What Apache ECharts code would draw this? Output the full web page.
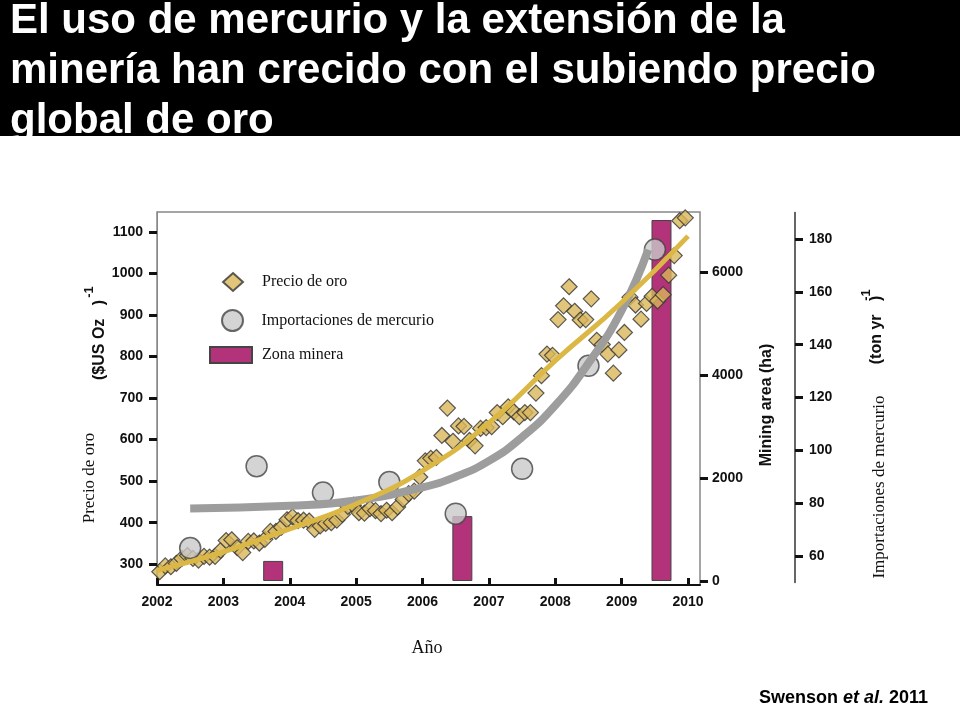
<!DOCTYPE html>
<html><head><meta charset="utf-8">
<script src="https://cdn.jsdelivr.net/npm/echarts@6/dist/echarts.min.js"></script>
<style>html,body{margin:0;background:#fff}#c{width:960px;height:720px}</style>
</head><body><div id="c"></div>
<script>
// monthly gold price, Jan 2002 .. Dec 2009 ($US/oz)
const goldPrice = [
  282,296,294,302,314,321,314,310,319,317,319,333,
  357,359,340,328,355,356,351,360,379,379,389,407,
  414,405,406,404,384,392,398,400,406,420,439,442,
  424,423,434,429,422,430,424,438,456,470,476,510,
  549,555,557,610,676,596,633,632,598,585,627,629,
  631,665,655,679,667,655,665,665,712,754,806,803,
  889,922,968,909,888,889,939,839,829,806,760,816,
  858,943,924,890,928,945,934,949,996,1043,1127,1134
]
const goldFitYears = [2002, 2003, 2004, 2005, 2006, 2007, 2008, 2009, 2010]
const goldFit = [285, 330, 385, 445, 525, 640, 790, 930, 1090]

const mercuryYears = [2002.5, 2003.5, 2004.5, 2005.5, 2006.5, 2007.5, 2008.5, 2009.5]
const mercury = [63, 94, 84, 88, 76, 93, 132, 176]
const mercuryFitYears = [2002.5, 2004, 2005, 2006, 2006.5, 2007, 2007.5, 2008, 2008.5, 2009, 2009.4]
const mercuryFit = [78, 79, 81, 86, 90, 96, 105, 117, 133, 153, 176]

const miningYears = [2003.75, 2006.6, 2009.6]
const miningArea = [390, 1260, 7030]

const goldTicks = [300, 400, 500, 600, 700, 800, 900, 1000, 1100]
const miningTicks = [0, 2000, 4000, 6000]
const mercuryTicks = [60, 80, 100, 120, 140, 160, 180]

const chart = echarts.init(document.getElementById('c'))
const L = 157, R = 260
const serif = 'Liberation Serif'
const bold = {color: '#111', fontFamily: 'Liberation Sans', fontWeight: 'bold', fontSize: 14, formatter: v => String(v)}
const tick = {length: 8, lineStyle: {width: 3, color: '#111'}}
const hiddenX = i => ({gridIndex: i, type: 'value', min: 2002, max: 2010.18, show: false})
const legendText = {fontFamily: serif, fontSize: 16, color: '#111'}

chart.setOption({
  animation: false,
  grid: [
    {left: L, right: R, top: 212, bottom: 135, show: true, borderColor: '#888', borderWidth: 1.5},
    {left: L, right: R, top: 220.5, bottom: 139},
    {left: L, right: R, top: 212.6, bottom: 137.6}
  ],
  xAxis: [
    {gridIndex: 0, type: 'value', min: 2002, max: 2010.18, interval: 1,
     axisLine: {show: true, lineStyle: {color: '#111', width: 2}},
     axisTick: {inside: true, length: 7, lineStyle: {width: 3, color: '#111'}},
     axisLabel: {...bold, margin: 10, showMaxLabel: false}, splitLine: {show: false}},
    hiddenX(1), hiddenX(2)
  ],
  yAxis: [
    {gridIndex: 0, type: 'value', min: 250, max: 1148, position: 'left',
     axisLabel: {...bold, margin: 14, customValues: goldTicks},
     axisTick: {...tick, customValues: goldTicks},
     axisLine: {show: true, lineStyle: {color: '#888'}}, splitLine: {show: false}},
    {gridIndex: 1, type: 'value', min: 0, max: 7000, position: 'right',
     axisLabel: {...bold, margin: 12, customValues: miningTicks},
     axisTick: {...tick, customValues: miningTicks},
     axisLine: {show: false}, splitLine: {show: false}},
    {gridIndex: 2, type: 'value', min: 50, max: 190, position: 'right', offset: 95,
     axisLabel: {...bold, margin: 14, customValues: mercuryTicks},
     axisTick: {...tick, customValues: mercuryTicks},
     axisLine: {show: true, lineStyle: {color: '#333', width: 1.5}}, splitLine: {show: false}}
  ],
  legend: [
    {left: 217, top: 267, itemWidth: 20, itemHeight: 18, itemGap: 10, textStyle: {...legendText, padding: [0, 0, 0, 14]},
     data: [{name: 'Precio de oro', icon: 'diamond'}]},
    {left: 216, top: 304, itemWidth: 22, itemHeight: 21, itemGap: 10, textStyle: {...legendText, padding: [0, 0, 0, 13]},
     data: [{name: 'Importaciones de mercurio', icon: 'circle'}]},
    {left: 204, top: 341, itemWidth: 42, itemHeight: 16, itemGap: 10, textStyle: {...legendText, padding: [0, 0, 0, 5]},
     data: [{name: 'Zona minera', icon: 'rect'}]}
  ],
  series: [
    {name: 'Zona minera', type: 'bar', xAxisIndex: 1, yAxisIndex: 1, barWidth: 20,
     data: miningYears.map((y, i) => [y, miningArea[i]]),
     itemStyle: {color: '#b3337a', borderColor: '#444', borderWidth: 1}},
    {name: 'mercFit', type: 'line', xAxisIndex: 2, yAxisIndex: 2, smooth: true, symbol: 'none',
     data: mercuryFitYears.map((y, i) => [y, mercuryFit[i]]),
     lineStyle: {color: '#9d9d9d', width: 8}},
    {name: 'goldFit', type: 'line', smooth: true, symbol: 'none',
     data: goldFitYears.map((y, i) => [y, goldFit[i]]),
     lineStyle: {color: '#dbb845', width: 5}},
    {name: 'Precio de oro', type: 'scatter', symbol: 'diamond', symbolSize: 16,
     data: goldPrice.map((v, i) => [2002 + (i + 0.5) / 12, v]),
     itemStyle: {color: '#d9b65a', borderColor: '#333', borderWidth: 1.2}},
    {name: 'Importaciones de mercurio', type: 'scatter', xAxisIndex: 2, yAxisIndex: 2, symbolSize: 21,
     data: mercuryYears.map((y, i) => [y, mercury[i]]),
     itemStyle: {color: '#c9c9cb', borderColor: '#444', borderWidth: 1.5}}
  ],
  graphic: [
    {type: 'rect', shape: {x: 0, y: 0, width: 960, height: 136}, style: {fill: '#000'}},
    {type: 'text', left: 10, top: -4, style: {
      text: 'El uso de mercurio y la extensión de la\nminería han crecido con el subiendo precio\nglobal de oro',
      fill: '#fff', font: 'bold 42px "Liberation Sans"', lineHeight: 50,
      textShadowColor: '#888', textShadowOffsetX: 3, textShadowOffsetY: 3}},
    {type: 'text', x: 90, y: 478, rotation: Math.PI / 2, style: {text: 'Precio de oro', font: '17px "Liberation Serif"', fill: '#111', align: 'center', verticalAlign: 'middle'}},
    {type: 'text', x: 100, y: 340, rotation: Math.PI / 2, style: {text: '($US Oz   )', font: 'bold 16px "Liberation Sans"', fill: '#111', align: 'center', verticalAlign: 'middle'}},
    {type: 'text', x: 89, y: 292, rotation: Math.PI / 2, style: {text: '-1', font: 'bold 13px "Liberation Sans"', fill: '#111', align: 'center', verticalAlign: 'middle'}},
    {type: 'text', x: 767, y: 405, rotation: Math.PI / 2, style: {text: 'Mining area (ha)', font: 'bold 16px "Liberation Sans"', fill: '#111', align: 'center', verticalAlign: 'middle'}},
    {type: 'text', x: 877, y: 330, rotation: Math.PI / 2, style: {text: '(ton yr   )', font: 'bold 16px "Liberation Sans"', fill: '#111', align: 'center', verticalAlign: 'middle'}},
    {type: 'text', x: 866, y: 295, rotation: Math.PI / 2, style: {text: '-1', font: 'bold 13px "Liberation Sans"', fill: '#111', align: 'center', verticalAlign: 'middle'}},
    {type: 'text', x: 880, y: 487, rotation: Math.PI / 2, style: {text: 'Importaciones de mercurio', font: '17px "Liberation Serif"', fill: '#111', align: 'center', verticalAlign: 'middle'}},
    {type: 'text', x: 427, y: 648, style: {text: 'Año', font: '18px "Liberation Serif"', fill: '#111', align: 'center', verticalAlign: 'middle'}},
    {type: 'text', right: 32, top: 689, style: {text: '{a|Swenson }{b|et al.}{a| 2011}', rich: {a: {font: 'bold 18px "Liberation Sans"', fill: '#000'}, b: {font: 'italic bold 18px "Liberation Sans"', fill: '#000'}}}}
  ]
})
</script>
</body></html>
